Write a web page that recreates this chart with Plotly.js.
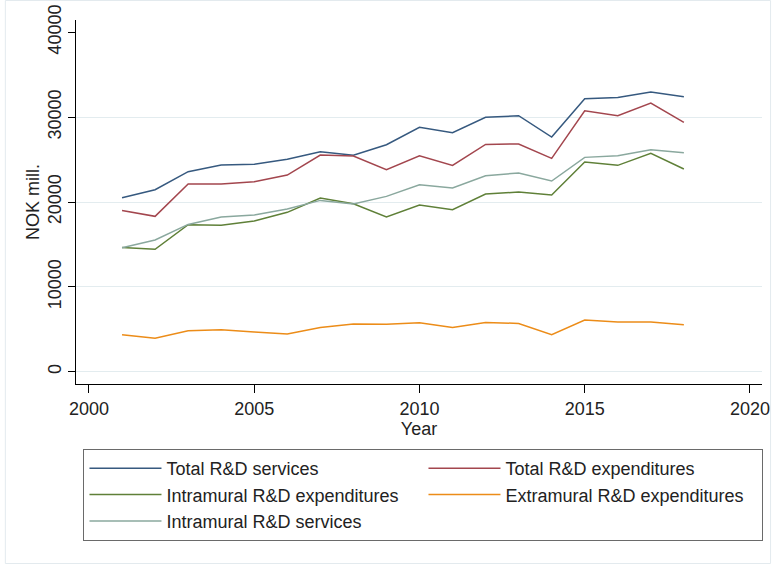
<!DOCTYPE html>
<html>
<head>
<meta charset="utf-8">
<script src="https://cdn.plot.ly/plotly-3.0.1.min.js"></script>
<style>html,body{margin:0;padding:0;background:#fff;}#chart{width:776px;height:567px;}</style>
</head>
<body>
<div id="chart"></div>
<script>
const years = [2001,2002,2003,2004,2005,2006,2007,2008,2009,2010,2011,2012,2013,2014,2015,2016,2017,2018];
const totalServices = [20500,21450,23570,24360,24440,25030,25930,25500,26750,28800,28170,29980,30170,27660,32180,32330,32960,32410];
const totalExpenditures = [19010,18310,22120,22120,22390,23180,25540,25420,23810,25440,24320,26790,26840,25140,30760,30170,31670,29380];
const intramuralExpenditures = [14650,14420,17330,17250,17760,18780,20470,19800,18230,19640,19090,20940,21180,20820,24710,24320,25730,23890];
const extramuralExpenditures = [4360,3930,4830,4950,4680,4440,5220,5620,5580,5770,5220,5810,5690,4360,6090,5850,5850,5540];
const intramuralServices = [14600,15520,17360,18230,18470,19170,20190,19760,20660,22040,21650,23100,23420,22470,25260,25460,26170,25810];

const seriesNames = ["Total R&D services","Total R&D expenditures","Intramural R&D expenditures","Extramural R&D expenditures","Intramural R&D services"];
const seriesValues = [totalServices,totalExpenditures,intramuralExpenditures,extramuralExpenditures,intramuralServices];
const seriesColors = ["#36597f","#a3464e","#5f8038","#ec8c18","#8aa89e"];

const xTicks = [2000,2005,2010,2015,2020];
const yTicks = [0,10000,20000,30000,40000];
const yGrid = [0,10000,20000,30000];

const FONT = "Liberation Sans, Arial, Helvetica, sans-serif";

const traces = seriesNames.map((n,i)=>({
  type:"scatter", mode:"lines", name:n, x:years, y:seriesValues[i],
  line:{color:seriesColors[i], width:1.5}, xaxis:"x", yaxis:"y"
}));
// invisible helper trace to carry the gridline axis
traces.unshift({type:"scatter", mode:"lines", x:[years[0]], y:[0], xaxis:"x", yaxis:"y2", showlegend:false, hoverinfo:"skip", line:{width:0}, opacity:0});

const yRange = [-1450, 41450];
const layout = {
  width:776, height:567,
  margin:{l:76, r:14, t:20, b:183},
  paper_bgcolor:"#ffffff", plot_bgcolor:"rgba(0,0,0,0)",
  font:{family:FONT, size:18, color:"#222"},
  showlegend:true,
  xaxis:{
    range:[1999.607, 2020.364], tickvals:xTicks, ticktext:xTicks.map(String),
    ticks:"outside", ticklen:8, tickwidth:1, tickcolor:"#000",
    showline:true, linecolor:"#000", linewidth:1, showgrid:false, zeroline:false,
    tickfont:{size:18, family:FONT, color:"#222"},
    title:{text:"Year", font:{size:18, family:FONT, color:"#222"}, standoff:0}
  },
  yaxis:{
    range:yRange, tickvals:yTicks, ticktext:yTicks.map(String),
    ticks:"outside", ticklen:7, tickwidth:1, tickcolor:"#000", tickangle:-90,
    showline:true, linecolor:"#000", linewidth:1, showgrid:false, zeroline:false,
    tickfont:{size:18, family:FONT, color:"#222"},
    title:{text:"NOK mill.", font:{size:18, family:FONT, color:"#222"}, standoff:0}
  },
  yaxis2:{
    overlaying:"y", range:yRange, tickvals:yGrid, showticklabels:false, ticks:"",
    showline:false, showgrid:true, gridcolor:"#e3ecef", gridwidth:1, zeroline:false, layer:"below traces"
  },
  legend:{
    orientation:"h", x:0.0109, xanchor:"left", y:-0.1786, yanchor:"top",
    bordercolor:"#6a6a6a", borderwidth:1, bgcolor:"#ffffff",
    font:{size:18, family:FONT, color:"#222"},
    entrywidth:252, entrywidthmode:"pixels", itemwidth:72, traceorder:"normal"
  },
  shapes:[{type:"rect", xref:"paper", yref:"paper", x0:-0.103, x1:1.0125, y0:-0.4931, y1:1.0536,
    line:{color:"#e3eaee", width:1}, fillcolor:"rgba(0,0,0,0)", layer:"below"}]
};
Plotly.newPlot("chart", traces, layout, {staticPlot:true, displayModeBar:false});
</script>
</body>
</html>
